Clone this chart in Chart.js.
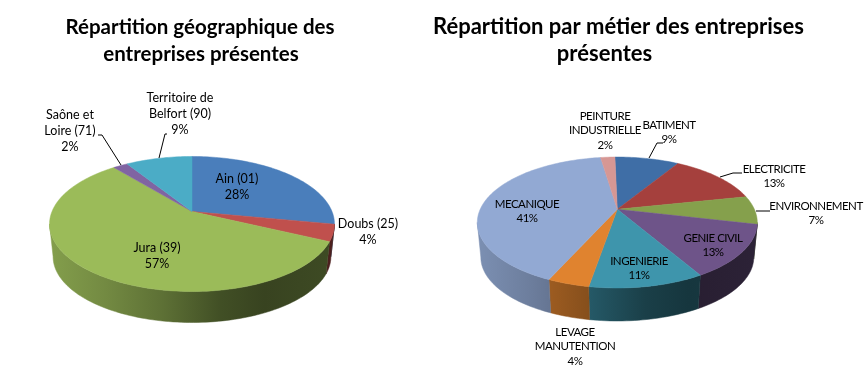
<!DOCTYPE html>
<html>
<head>
<meta charset="utf-8">
<style>
  body { margin: 0; background: #fff; }
  canvas { position: absolute; top: 0; }
  #geo-chart { left: 0; }
  #trade-chart { left: 369px; }
</style>
<script src="https://cdn.jsdelivr.net/npm/chart.js@4/dist/chart.umd.min.js"></script>
</head>
<body>
<canvas id="geo-chart" width="400" height="382"></canvas>
<canvas id="trade-chart" width="498" height="382"></canvas>
<script>
// Chart data
const geoTitle = ['Répartition géographique des', 'entreprises présentes'];
const geoNames = [['Ain (01)'], ['Doubs (25)'], ['Jura (39)'], ['Saône et', 'Loire (71)'], ['Territoire de', 'Belfort (90)']];
const geoValues = [28, 4, 57, 2, 9];
const geoColors = ['#4a7ebb', '#c0504d', '#9bbb59', '#8064a2', '#4bacc6'];

const tradeTitle = ['Répartition par métier des entreprises', 'présentes'];
const tradeNames = [['BATIMENT'], ['ELECTRICITE'], ['ENVIRONNEMENT'], ['GENIE CIVIL'], ['INGENIERIE'], ['LEVAGE', 'MANUTENTION'], ['MECANIQUE'], ['PEINTURE', 'INDUSTRIELLE']];
const tradeValues = [9, 13, 7, 13, 11, 4, 41, 2];
const tradeColors = ['#3f6ea6', '#a5403d', '#85a04c', '#6e5489', '#3e95ac', '#e0832f', '#92a9d3', '#d69794'];

// Wall brightness from left to right of the pie
const wallShade = [[0, 0.85], [0.2, 0.74], [0.4, 0.6], [0.6, 0.42], [0.75, 0.36], [1, 0.4]];

function darken(hex, f) {
    const n = parseInt(hex.slice(1), 16);
    const c = [n >> 16, (n >> 8) & 255, n & 255].map(v => Math.round(v * f));
    return `rgb(${c[0]},${c[1]},${c[2]})`;
}

// Tilted pie: takes the slice angles from the library and projects them in perspective
function tiltedPie(view) {
    const cx = view.cx - view.originX;

    const project = (angle, lower) => {
        const u = Math.cos(angle);
        const v = Math.sin(angle);
        const w = 1 - view.k * v;
        const s = lower ? 0.975 : 1;
        return [
            cx + s * view.sx * u / w,
            view.cy + (lower ? view.depth : 0) + s * view.sy * v / w
        ];
    };

    const rim = (ctx, from, to, lower) => {
        const steps = Math.max(2, Math.ceil(Math.abs(to - from) * 40));
        for (let i = 0; i <= steps; i++) {
            const p = project(from + (to - from) * i / steps, lower);
            ctx.lineTo(p[0], p[1]);
        }
    };

    return {
        id: 'tiltedPie',
        beforeDatasetDraw(chart, args) {
            const ctx = chart.ctx;
            const arcs = args.meta.data;
            const front = Math.asin(view.k);
            const left = cx - view.sx * 1.03;
            const right = cx + view.sx * 1.03;

            // Side wall
            arcs.forEach((arc, i) => {
                const from = Math.max(arc.startAngle, front);
                const to = Math.min(arc.endAngle, Math.PI - front);
                if (to <= from) return;
                const grad = ctx.createLinearGradient(left, 0, right, 0);
                wallShade.forEach(s => grad.addColorStop(s[0], darken(view.colors[i], s[1])));
                ctx.beginPath();
                rim(ctx, from, to, false);
                rim(ctx, to, from, true);
                ctx.closePath();
                ctx.fillStyle = grad;
                ctx.strokeStyle = grad;
                ctx.lineWidth = 0.5;
                ctx.fill();
                ctx.stroke();
            });

            // Top face
            arcs.forEach((arc, i) => {
                ctx.beginPath();
                ctx.moveTo(cx, view.cy);
                rim(ctx, arc.startAngle, arc.endAngle, false);
                ctx.closePath();
                ctx.fillStyle = view.colors[i];
                ctx.strokeStyle = view.colors[i];
                ctx.lineWidth = 0.5;
                ctx.fill();
                ctx.stroke();
            });
            return false;
        },
        afterDraw(chart) {
            const ctx = chart.ctx;
            ctx.textAlign = 'center';
            ctx.textBaseline = 'middle';
            ctx.fillStyle = '#000';

            // Title, the two lines are not on the same centre in the original
            ctx.font = `bold ${view.titleSize}px Lato`;
            view.title.forEach((text, n) => {
                ctx.fillText(text, view.titleSpots[n][0] - view.originX, view.titleSpots[n][1]);
            });

            // Leader lines
            ctx.strokeStyle = '#000';
            ctx.lineWidth = 1;
            view.leaders.forEach(line => {
                ctx.beginPath();
                line.forEach(p => ctx.lineTo(p[0] - view.originX, p[1]));
                ctx.stroke();
            });

            // Data labels
            ctx.font = view.labelFont;
            ctx.letterSpacing = view.labelSpacing;
            chart.data.labels.forEach((name, i) => {
                const lines = [...name, chart.data.datasets[0].data[i] + '%'];
                const spot = view.labelSpots[i];
                lines.forEach((text, n) => {
                    ctx.fillText(text, spot[0] - view.originX, spot[1] + n * view.lineGap);
                });
            });
        }
    };
}

function drawPie(id, title, names, values, colors, view) {
    return new Chart(document.getElementById(id), {
        type: 'pie',
        data: {
            labels: names,
            datasets: [{ data: values, backgroundColor: colors, borderWidth: 0 }]
        },
        options: {
            responsive: false,
            animation: false,
            rotation: view.rotation,
            plugins: {
                legend: { display: false },
                tooltip: { enabled: false }
            }
        },
        plugins: [tiltedPie({ ...view, title, colors })]
    });
}

drawPie('geo-chart', geoTitle, geoNames, geoValues, geoColors, {
    originX: 0,
    rotation: 0,
    titleSize: 20.5,
    titleSpots: [[200, 27.5], [201, 54.5]],
    cx: 192, cy: 211.5, sx: 140, sy: 65.2, k: 0.185, depth: 33,
    labelFont: '12.5px Lato',
    labelSpacing: '0px',
    lineGap: 16,
    labelSpots: [[237, 179], [368, 224], [157, 248], [70, 115], [180, 98]],
    leaders: [
        [[98, 135], [102, 135], [121, 165]],
        [[167, 134], [165, 134], [159, 158]]
    ]
});

drawPie('trade-chart', tradeTitle, tradeNames, tradeValues, tradeColors, {
    originX: 369,
    rotation: -1.2,
    titleSize: 22,
    titleSpots: [[618.5, 26.5], [604.5, 53.5]],
    cx: 617.3, cy: 209.3, sx: 137.1, sy: 62.8, k: 0.2016, depth: 35,
    labelFont: '11.5px Lato',
    labelSpacing: '-0.5px',
    lineGap: 14.5,
    labelSpots: [[669, 125], [774, 169], [816, 206], [713, 238], [639, 261], [575, 332], [527, 204], [605, 116]],
    leaders: [
        [[663, 143], [657, 143], [649, 158]],
        [[742, 173], [733, 173], [720, 177]],
        [[770, 211], [756, 211]]
    ]
});
</script>
</body>
</html>
